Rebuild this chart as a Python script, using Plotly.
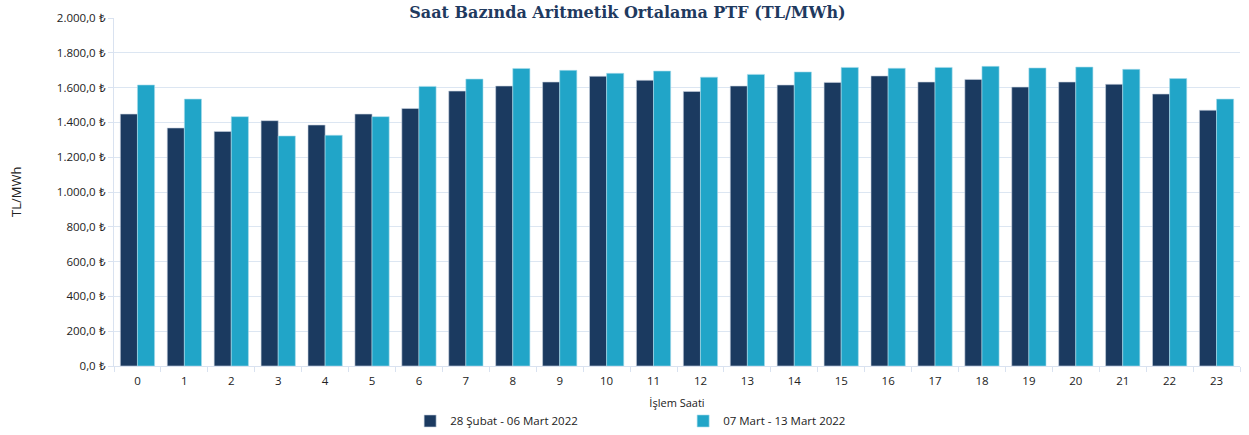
import plotly.graph_objects as go

hours = [str(h) for h in range(24)]
series1_name = "28 Şubat - 06 Mart 2022"
series2_name = "07 Mart - 13 Mart 2022"
series1 = [1448, 1368, 1348, 1410, 1385, 1448, 1480, 1580, 1609, 1632, 1665, 1642,
           1578, 1609, 1615, 1630, 1667, 1632, 1647, 1603, 1632, 1619, 1563, 1470]
series2 = [1615, 1534, 1433, 1322, 1326, 1433, 1607, 1649, 1710, 1699, 1682, 1695,
           1660, 1676, 1690, 1716, 1711, 1716, 1722, 1713, 1718, 1705, 1652, 1534]
tick_vals = list(range(0, 2001, 200))
tick_text = [f"{v:,.1f}".replace(",", "X").replace(".", ",").replace("X", ".") + " ₺" for v in tick_vals]

fig = go.Figure()
fig.add_trace(go.Bar(x=hours, y=series1, name=series1_name,
                     marker=dict(color="#1B3A60", line=dict(color="#C9D3E0", width=0.6))))
fig.add_trace(go.Bar(x=hours, y=series2, name=series2_name,
                     marker=dict(color="#21A5C8", line=dict(color="#A8DCEB", width=0.6))))

fig.update_layout(
    width=1249, height=435,
    margin=dict(l=114, r=9, t=18, b=69, autoexpand=False),
    paper_bgcolor="white", plot_bgcolor="white",
    font=dict(family="Open Sans, Liberation Sans, sans-serif", size=11, color="#222"),
    title=dict(text="<b>Saat Bazında Aritmetik Ortalama PTF (TL/MWh)</b>",
               font=dict(family="DejaVu Serif, Liberation Serif, serif", size=16, color="#1F3A5F"),
               x=0.456, xanchor="center", xref="paper", y=0.985, yanchor="top"),
    barmode="group", bargap=0.27, bargroupgap=0.0,
    showlegend=True,
    legend=dict(orientation="h", x=0.263, xanchor="left", y=-0.158, yanchor="middle",
                entrywidth=228, entrywidthmode="pixels",
                font=dict(size=11.5, color="#222"),
                traceorder="normal"),
    xaxis=dict(title=dict(text="İşlem Saati", font=dict(size=11), standoff=12),
               automargin=False,
               showline=True, linecolor="#D9E2F0", linewidth=1,
               ticks="outside", tickson="boundaries", ticklen=5, tickcolor="#D9E2F0",
               ticklabelstandoff=4,
               tickfont=dict(size=11.5, color="#222"), showgrid=False),
    yaxis=dict(automargin=False,
               range=[0, 2000], tickvals=tick_vals, ticktext=tick_text,
               showgrid=True, gridcolor="#DCE6F2", gridwidth=1,
               showline=True, linecolor="#D9E2F0", linewidth=1,
               ticks="outside", ticklen=5, tickcolor="#D9E2F0",
               tickfont=dict(size=11.5, color="#222"), zeroline=False),
    annotations=[dict(text="TL/MWh", textangle=-90, xref="paper", yref="paper",
                      x=(16 - 114) / 1126, y=0.5, xanchor="center", yanchor="middle",
                      showarrow=False, font=dict(size=13, color="#222"))],
)

fig.write_html("out.html", config={"displayModeBar": False},
               post_script="document.body.style.margin='0px';")
